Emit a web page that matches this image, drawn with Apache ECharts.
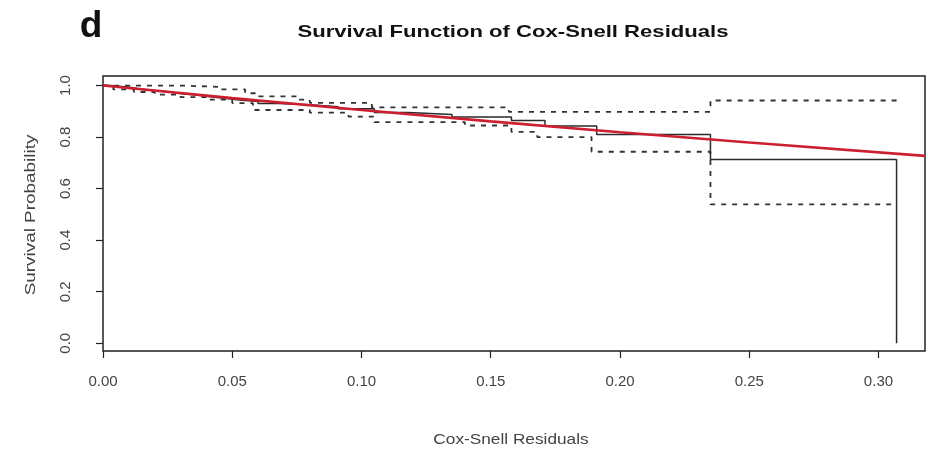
<!DOCTYPE html>
<html>
<head>
<meta charset="utf-8">
<script src="https://cdn.jsdelivr.net/npm/echarts@6/dist/echarts.min.js"></script>
<style>html,body{margin:0;padding:0;background:#fff;}#c{width:935px;height:459px;}</style>
</head>
<body>
<div id="c"></div>
<script>
// Kaplan-Meier estimate of Cox-Snell residuals (step values)
const kmX = [0, 0.003, 0.007, 0.011, 0.014, 0.018, 0.022, 0.026, 0.029, 0.033, 0.037, 0.040, 0.044, 0.048, 0.051, 0.055, 0.060, 0.068, 0.080, 0.091, 0.105, 0.118, 0.135, 0.158, 0.171, 0.191, 0.235, 0.307];
const kmY = [1.0, 0.996, 0.992, 0.987, 0.983, 0.979, 0.975, 0.970, 0.966, 0.962, 0.958, 0.954, 0.950, 0.946, 0.942, 0.938, 0.930, 0.925, 0.918, 0.910, 0.895, 0.888, 0.878, 0.864, 0.843, 0.810, 0.713, 0.0];
// 95% confidence band (dashed)
const upX = [0, 0.030, 0.045, 0.055, 0.060, 0.075, 0.080, 0.104, 0.157, 0.235, 0.307];
const upY = [1.0, 0.995, 0.985, 0.970, 0.958, 0.945, 0.933, 0.915, 0.898, 0.942, 0.942];
const loX = [0, 0.004, 0.012, 0.020, 0.030, 0.040, 0.050, 0.058, 0.080, 0.095, 0.105, 0.140, 0.158, 0.168, 0.189, 0.235, 0.307];
const loY = [1.0, 0.985, 0.975, 0.965, 0.955, 0.945, 0.932, 0.905, 0.895, 0.879, 0.858, 0.845, 0.820, 0.800, 0.743, 0.539, 0.539];
// reference line (red)
const refX = [0, 0.05, 0.10, 0.15, 0.20, 0.25, 0.318];
const refY = [1.0, 0.951, 0.905, 0.861, 0.819, 0.779, 0.727];
// tick labels
const xTicks = [0, 0.05, 0.10, 0.15, 0.20, 0.25, 0.30];
const yTicks = [0, 0.2, 0.4, 0.6, 0.8, 1.0];

const pairs = (xs, ys) => xs.map((x, i) => [x, ys[i]]);
const labelColor = '#444';
const font = 'Liberation Sans, Arial, sans-serif';

const chart = echarts.init(document.getElementById('c'));
chart.setOption({
  backgroundColor: '#fff',
  animation: false,
  textStyle: { fontFamily: font },
  graphic: [
    { type: 'text', x: 513, y: 32, scaleX: 1.3, z: 10,
      style: { text: 'Survival Function of Cox-Snell Residuals', align: 'center', verticalAlign: 'middle',
               font: 'bold 17px ' + font, fill: '#111' } },
    { type: 'text', x: 91, y: 27, z: 10,
      style: { text: 'd', align: 'center', verticalAlign: 'middle', font: 'bold 37px ' + font, fill: '#111' } },
    { type: 'text', x: 511, y: 440, scaleX: 1.15, z: 10,
      style: { text: 'Cox-Snell Residuals', align: 'center', verticalAlign: 'middle', font: '15px ' + font, fill: labelColor } },
    { type: 'text', x: 31, y: 215, scaleX: 1.26, rotation: Math.PI / 2, z: 10,
      style: { text: 'Survival Probability', align: 'center', verticalAlign: 'middle', font: '15px ' + font, fill: labelColor } }
  ],
  grid: { left: 103, right: 10, top: 76, bottom: 108, show: true, borderColor: '#222', borderWidth: 1.5, backgroundColor: 'transparent' },
  xAxis: {
    type: 'value', min: 0, max: 0.318,
    splitLine: { show: false },
    axisLine: { show: false, onZero: false },
    axisTick: { show: true, length: 7, lineStyle: { color: '#222', width: 1.2 }, customValues: xTicks },
    axisLabel: { customValues: xTicks, fontSize: 15, color: labelColor, margin: 23, formatter: v => v.toFixed(2) }
  },
  yAxis: {
    type: 'value', min: -0.03, max: 1.037,
    splitLine: { show: false },
    axisLine: { show: false, onZero: false },
    axisTick: { show: true, length: 7, lineStyle: { color: '#222', width: 1.2 }, customValues: yTicks },
    axisLabel: { customValues: yTicks, fontSize: 15, color: labelColor, margin: 30, rotate: 90, formatter: v => v.toFixed(1) }
  },
  series: [
    { type: 'line', step: 'end', data: pairs(upX, upY), showSymbol: false, symbol: 'none',
      lineStyle: { color: '#333', width: 1.8, type: [5, 6] }, z: 2 },
    { type: 'line', step: 'end', data: pairs(loX, loY), showSymbol: false, symbol: 'none',
      lineStyle: { color: '#333', width: 1.8, type: [5, 6] }, z: 2 },
    { type: 'line', step: 'end', data: pairs(kmX, kmY), showSymbol: false, symbol: 'none',
      lineStyle: { color: '#2a2a2a', width: 1.5 }, z: 3 },
    { type: 'line', data: pairs(refX, refY), showSymbol: false, symbol: 'none',
      lineStyle: { color: '#cc1f30', width: 2.6 }, z: 4 }
  ]
});
</script>
</body>
</html>
